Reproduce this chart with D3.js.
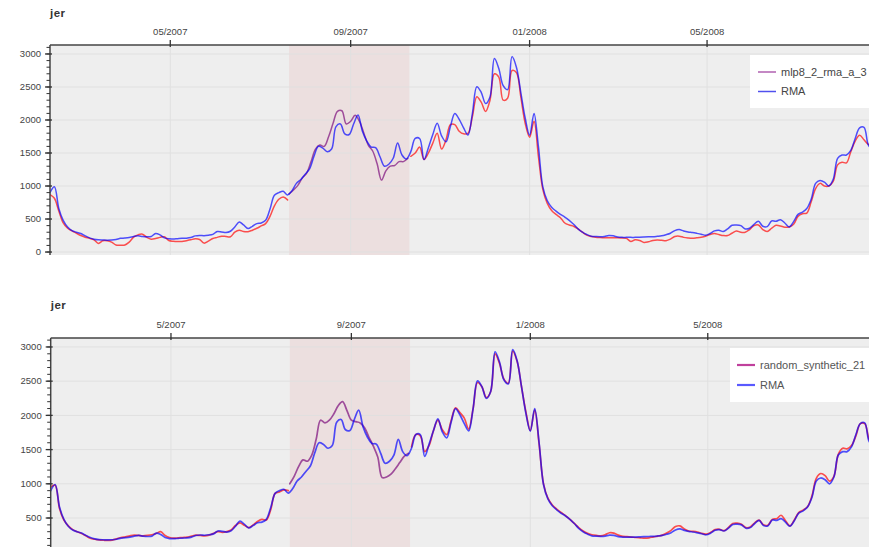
<!DOCTYPE html>
<html><head><meta charset="utf-8">
<script src="https://cdn.jsdelivr.net/npm/d3@7"></script>
<style>body{margin:0;background:#fff;} svg{display:block;font-family:"Liberation Sans",Arial,sans-serif;}</style>
</head><body><svg id="c" width="869" height="547"></svg>
<script>
// ---------- data ----------
const startDate = "2007-02-08";   // first sample, one sample every 3 days
const stepDays = 3;
const testStart = "2007-07-21";   // shaded test period
const testEnd = "2007-10-11";
const domainEnd = "2008-08-31";
const xTicks = ["2007-05-01","2007-09-01","2008-01-01","2008-05-01"];
const topTickLabels = ["05/2007","09/2007","01/2008","05/2008"];
const bottomTickLabels = ["5/2007","9/2007","1/2008","5/2008"];
const yTicks = [0,500,1000,1500,2000,2500,3000];
const chartTitle = "jer";
const seriesNames = ["mlp8_2_rma_a_3","random_synthetic_21","RMA"];

const rma = [900,990,660,480,380,325,300,280,245,215,195,185,182,180,182,190,207,212,220,235,
245,235,230,235,280,260,215,200,198,203,207,210,220,245,252,248,255,268,310,305,
295,315,380,455,410,355,390,430,440,480,650,860,900,920,865,930,1040,1100,1180,1260,
1450,1600,1575,1520,1560,1900,1940,1790,1780,1940,2076,1830,1680,1590,1580,1444,1300,1330,1420,1650,
1470,1410,1520,1720,1720,1400,1580,1780,1950,1760,1670,1900,2100,2010,1880,1773,2100,2505,2420,2250,
2350,2930,2780,2520,2460,2960,2800,2420,2030,1770,2100,1600,990,780,680,620,570,530,480,420,
350,300,265,240,235,232,235,250,245,228,222,222,222,222,225,228,230,232,238,245,
262,285,325,340,320,305,295,283,270,255,280,320,330,310,350,405,410,400,350,360,
420,465,390,385,470,465,490,440,380,460,570,605,660,800,1040,1085,1060,1000,1100,1420,
1470,1470,1540,1720,1880,1890,1620,1550];

const mlpTrain = [870,815,620,440,360,320,285,250,225,207,185,131,170,170,150,106,104,106,150,225,
260,270,222,195,205,222,232,175,163,158,160,172,185,200,190,135,165,205,222,240,
235,232,300,330,310,308,330,360,395,430,540,700,800,835,790,
null,null,null,null,null,null,null,null,null,null,null,null,null,null,null,null,null,null,null,null,null,null,null,null,null,null,null,
1450,1500,1590,1400,1500,1650,1798,1560,1700,1930,1930,1830,1790,1800,2050,2353,2270,2130,2300,2700,
2650,2300,2330,2750,2720,2350,1950,1740,1980,1450,950,740,630,570,520,440,410,390,350,300,
255,235,225,220,217,218,218,217,212,207,160,185,175,145,155,175,182,178,172,195,
235,240,222,212,207,215,225,240,265,280,265,250,250,285,318,300,300,340,400,410,
340,310,360,405,395,375,380,420,540,580,590,760,960,1040,1000,1000,1070,1320,1360,1350,
1520,1680,1770,1700,1630,1600];

const mlpTest = [880,940,1010,1120,1195,1370,1560,1620,1600,1750,1950,2130,2140,1940,1980,2070,1980,1800,1620,1530,
1340,1090,1230,1300,1310,1369,1370,1420];

const synthTrain = [950,980,640,470,385,330,300,275,240,205,190,180,175,172,178,195,215,225,240,250,
245,240,245,255,275,300,245,215,205,210,215,220,235,250,245,240,250,275,300,290,
300,325,390,430,395,360,400,450,480,470,620,860,880,910,900,
null,null,null,null,null,null,null,null,null,null,null,null,null,null,null,null,null,null,null,null,null,null,null,null,null,null,null,
1540,1720,1700,1470,1560,1780,1930,1790,1720,1920,2110,2040,1960,1800,2100,2480,2420,2260,2350,2900,
2760,2530,2470,2940,2790,2420,2050,1780,2080,1580,1000,790,690,630,580,535,480,420,360,310,
275,255,245,240,255,285,280,250,232,228,222,215,210,205,210,225,235,250,280,320,
375,385,340,310,305,295,275,265,290,330,335,315,360,420,425,410,360,370,430,470,
400,395,480,490,540,460,385,470,580,615,665,820,1080,1150,1120,1040,1110,1430,1520,1510,
1560,1700,1880,1880,1650,1560];

const synthTest = [1000,1110,1250,1350,1330,1420,1650,1930,1890,1930,2020,2140,2200,2070,1930,1908,1890,1820,1680,1550,
1390,1090,1100,1140,1220,1310,1400,1445];

// ---------- helpers ----------
const parse = d3.utcParse("%Y-%m-%d");
const DAY = 864e5;
const t0 = parse(startDate).getTime();
const tTest = parse(testStart).getTime();
const datesMain = rma.map((_, i) => new Date(t0 + i * stepDays * DAY));
const datesTest = mlpTest.map((_, i) => new Date(tTest + i * stepDays * DAY));

const svg = d3.select("#c");
const C = { red: "rgba(255,0,0,0.68)", blue: "rgba(0,0,255,0.68)", purple: "rgba(128,20,128,0.72)" };
const H = 547;

function panel(cfg, idx) {
  const g = svg.append("g");
  const x = d3.scaleUtc().domain([parse(startDate), parse(domainEnd)]).range([cfg.left, cfg.right]);
  const y = d3.scaleLinear().domain(cfg.yDomain).range([cfg.bottom, cfg.top]);
  const clipId = "clip" + idx;
  svg.append("clipPath").attr("id", clipId).append("rect")
    .attr("x", cfg.left).attr("y", cfg.top).attr("width", cfg.right - cfg.left).attr("height", cfg.bottom - cfg.top);

  g.append("rect").attr("x", cfg.left).attr("y", cfg.top).attr("width", cfg.right - cfg.left)
    .attr("height", cfg.bottom - cfg.top).attr("fill", "#eeeeee");
  g.append("rect").attr("x", x(parse(testStart))).attr("y", cfg.top)
    .attr("width", x(parse(testEnd)) - x(parse(testStart))).attr("height", cfg.bottom - cfg.top)
    .attr("fill", "#ecdfdf").attr("clip-path", `url(#${clipId})`);
  const grid = g.append("g").attr("clip-path", `url(#${clipId})`);
  grid.selectAll(".gy").data(yTicks).join("line")
    .attr("x1", cfg.left).attr("x2", cfg.right).attr("y1", d => y(d)).attr("y2", d => y(d))
    .attr("stroke", "#e0e0e0").attr("stroke-width", 1);
  grid.selectAll(".gx").data(xTicks).join("line")
    .attr("x1", d => x(parse(d))).attr("x2", d => x(parse(d))).attr("y1", cfg.top).attr("y2", cfg.bottom)
    .attr("stroke", "#e0e0e0").attr("stroke-width", 1);

  const lines = g.append("g").attr("clip-path", `url(#${clipId})`).attr("fill", "none")
    .attr("stroke-linejoin", "round").attr("stroke-linecap", "round");
  const curve = d3.curveCatmullRom.alpha(0.5);
  const mk = (dates) => d3.line().defined(d => d != null).x((d, i) => x(dates[i])).y(d => y(d)).curve(curve);
  lines.append("path").attr("d", mk(datesMain)(cfg.train)).attr("stroke", C.red).attr("stroke-width", cfg.sw);
  lines.append("path").attr("d", mk(datesTest)(cfg.test)).attr("stroke", C.purple).attr("stroke-width", cfg.sw);
  lines.append("path").attr("d", mk(datesMain)(rma)).attr("stroke", C.blue).attr("stroke-width", cfg.sw);

  const ax = g.append("g");
  ax.append("line").attr("x1", cfg.left).attr("x2", cfg.right).attr("y1", cfg.top).attr("y2", cfg.top)
    .attr("stroke", "#444").attr("stroke-width", 1.5);
  ax.selectAll(".xt").data(xTicks).join("line")
    .attr("x1", d => x(parse(d))).attr("x2", d => x(parse(d))).attr("y1", cfg.top - 5).attr("y2", cfg.top + 2)
    .attr("stroke", "#333").attr("stroke-width", 1.3);
  ax.selectAll(".xl").data(xTicks).join("text")
    .attr("x", d => x(parse(d))).attr("y", cfg.top - 10).attr("text-anchor", "middle")
    .attr("font-size", 9.5).attr("fill", "#444").text((d, i) => cfg.tickLabels[i]);

  const ay = g.append("g");
  ay.append("line").attr("x1", cfg.left).attr("x2", cfg.left).attr("y1", cfg.top).attr("y2", cfg.bottom)
    .attr("stroke", "#444").attr("stroke-width", 1.5);
  const minor = d3.range(0, 3200, 100).filter(v => y(v) >= cfg.top - 0.5);
  ay.selectAll(".mt").data(minor).join("line")
    .attr("x1", cfg.left - 3.5).attr("x2", cfg.left).attr("y1", d => y(d)).attr("y2", d => y(d))
    .attr("stroke", "#333").attr("stroke-width", 1);
  ay.selectAll(".yt").data(yTicks).join("line")
    .attr("x1", cfg.left - 5).attr("x2", cfg.left + 2).attr("y1", d => y(d)).attr("y2", d => y(d))
    .attr("stroke", "#333").attr("stroke-width", 1.3);
  ay.selectAll(".yl").data(yTicks.filter(d => y(d) < H - 6)).join("text")
    .attr("x", cfg.left - 9).attr("y", d => y(d)).attr("dy", "0.35em").attr("text-anchor", "end")
    .attr("font-size", 9.5).attr("fill", "#444").text(d => d);

  g.append("text").attr("x", cfg.left).attr("y", cfg.titleY).attr("font-size", 11.5)
    .attr("font-weight", "bold").attr("fill", "#333").attr("letter-spacing", 0.5).text(chartTitle);

  const L = cfg.legend;
  const lg = g.append("g");
  lg.append("rect").attr("x", L.x).attr("y", L.y).attr("width", L.w).attr("height", L.h).attr("fill", "#fff");
  const items = [{ name: cfg.predName, color: L.c1 }, { name: seriesNames[2], color: L.c2 }];
  items.forEach((it, i) => {
    const yy = L.y + L.row0 + i * L.rowH;
    lg.append("line").attr("x1", L.x + L.lx0).attr("x2", L.x + L.lx1).attr("y1", yy).attr("y2", yy)
      .attr("stroke", it.color).attr("stroke-width", L.lw);
    lg.append("text").attr("x", L.x + L.tx).attr("y", yy).attr("dy", "0.35em")
      .attr("font-size", L.fs).attr("fill", L.tc).text(it.name);
  });
}

panel({
  left: 50, right: 886, top: 45, bottom: 255, yDomain: [-45, 3136], titleY: 17,
  tickLabels: topTickLabels, train: mlpTrain, test: mlpTest, predName: seriesNames[0], sw: 1.5,
  legend: { x: 750, y: 55, w: 140, h: 53, row0: 17, rowH: 19.5, lx0: 8, lx1: 26, tx: 31, lw: 1.5, fs: 11, tc: "#444",
            c1: "#b060b0", c2: "#5050ee" }
}, 0);

panel({
  left: 50.7, right: 886.7, top: 338, bottom: 555.3, yDomain: [-45, 3131], titleY: 309,
  tickLabels: bottomTickLabels, train: synthTrain, test: synthTest, predName: seriesNames[1], sw: 1.7,
  legend: { x: 730, y: 348, w: 160, h: 54, row0: 17, rowH: 20, lx0: 7, lx1: 25, tx: 30, lw: 2.2, fs: 11, tc: "#555",
            c1: "#c0409c", c2: "#5a5aff" }
}, 1);
</script>
</body></html>
